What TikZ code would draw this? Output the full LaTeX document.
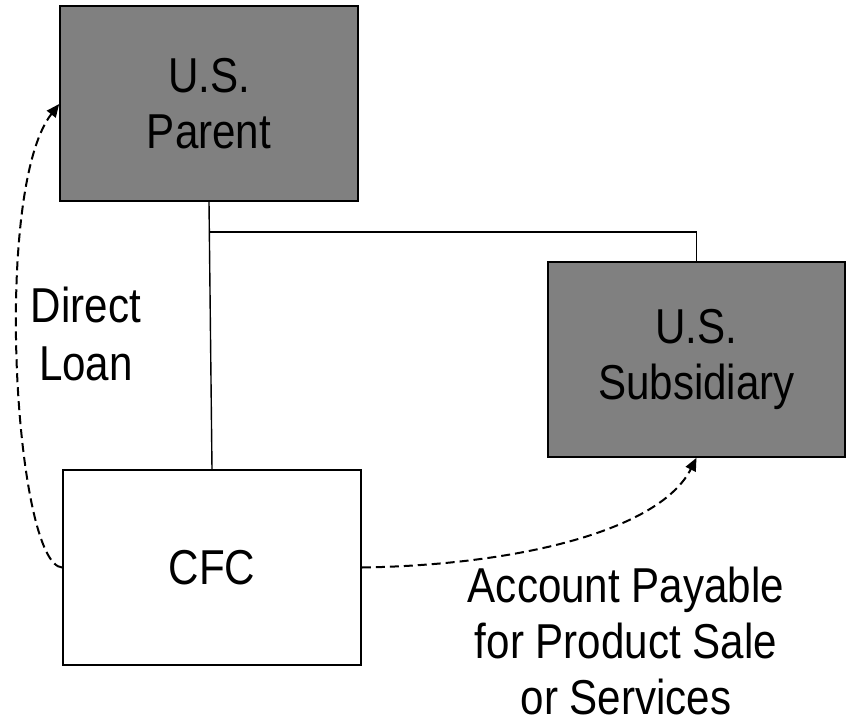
\documentclass[tikz,border=0pt]{standalone}
\usepackage{fontspec}
\setmainfont[FakeStretch=0.86]{Liberation Sans}
\usetikzlibrary{arrows.meta}
\definecolor{boxgray}{RGB}{128,128,128}
\begin{document}
\begin{tikzpicture}[x=1pt,y=-1pt,
  every node/.style={font=\fontsize{49}{56}\selectfont, inner sep=0pt},
  entity/.style={draw=black, line width=1.6pt, minimum width=298pt, minimum height=195pt, align=center},
  shaded/.style={entity, fill=boxgray},
  plain/.style={entity, fill=white},
  tree/.style={draw=black, line width=1.4pt},
  flow/.style={draw=black, line width=2pt, dash pattern=on 9pt off 5pt, -{Triangle[length=13pt,width=11pt]}},
  lbl/.style={align=center}]
\useasboundingbox (0,0) rectangle (846,723);
\coordinate (j) at (209,232);
\node[shaded] (parent) at (209,103.5) {};
\node[plain] (cfc) at (212,567.5) {};
\node[shaded, minimum width=297pt] (sub) at (696.5,359.5) {};
\draw[tree] (parent.south) -- (cfc.north);
\draw[tree] (j) -| (sub.north);
\node[shaded] (parent) at (209,103.5) {U.S.\\Parent};
\node[plain] (cfc) at (212,567.5) {CFC};
\node[shaded, minimum width=297pt] (sub) at (696.5,359.5) {U.S.\\Subsidiary};
\draw[flow] (cfc.west) .. controls (15,565) and (-8,190) .. (parent.west |- 0,104);
\draw[flow] (cfc.east) .. controls (520,565) and (660,530) .. (sub.south);
\node[lbl, font=\fontsize{49}{58}\selectfont] (loan) at (86,334) {Direct\\Loan};
\node[lbl] (ap) at (626,641) {Account Payable\\for Product Sale\\or Services};
\end{tikzpicture}
\end{document}
